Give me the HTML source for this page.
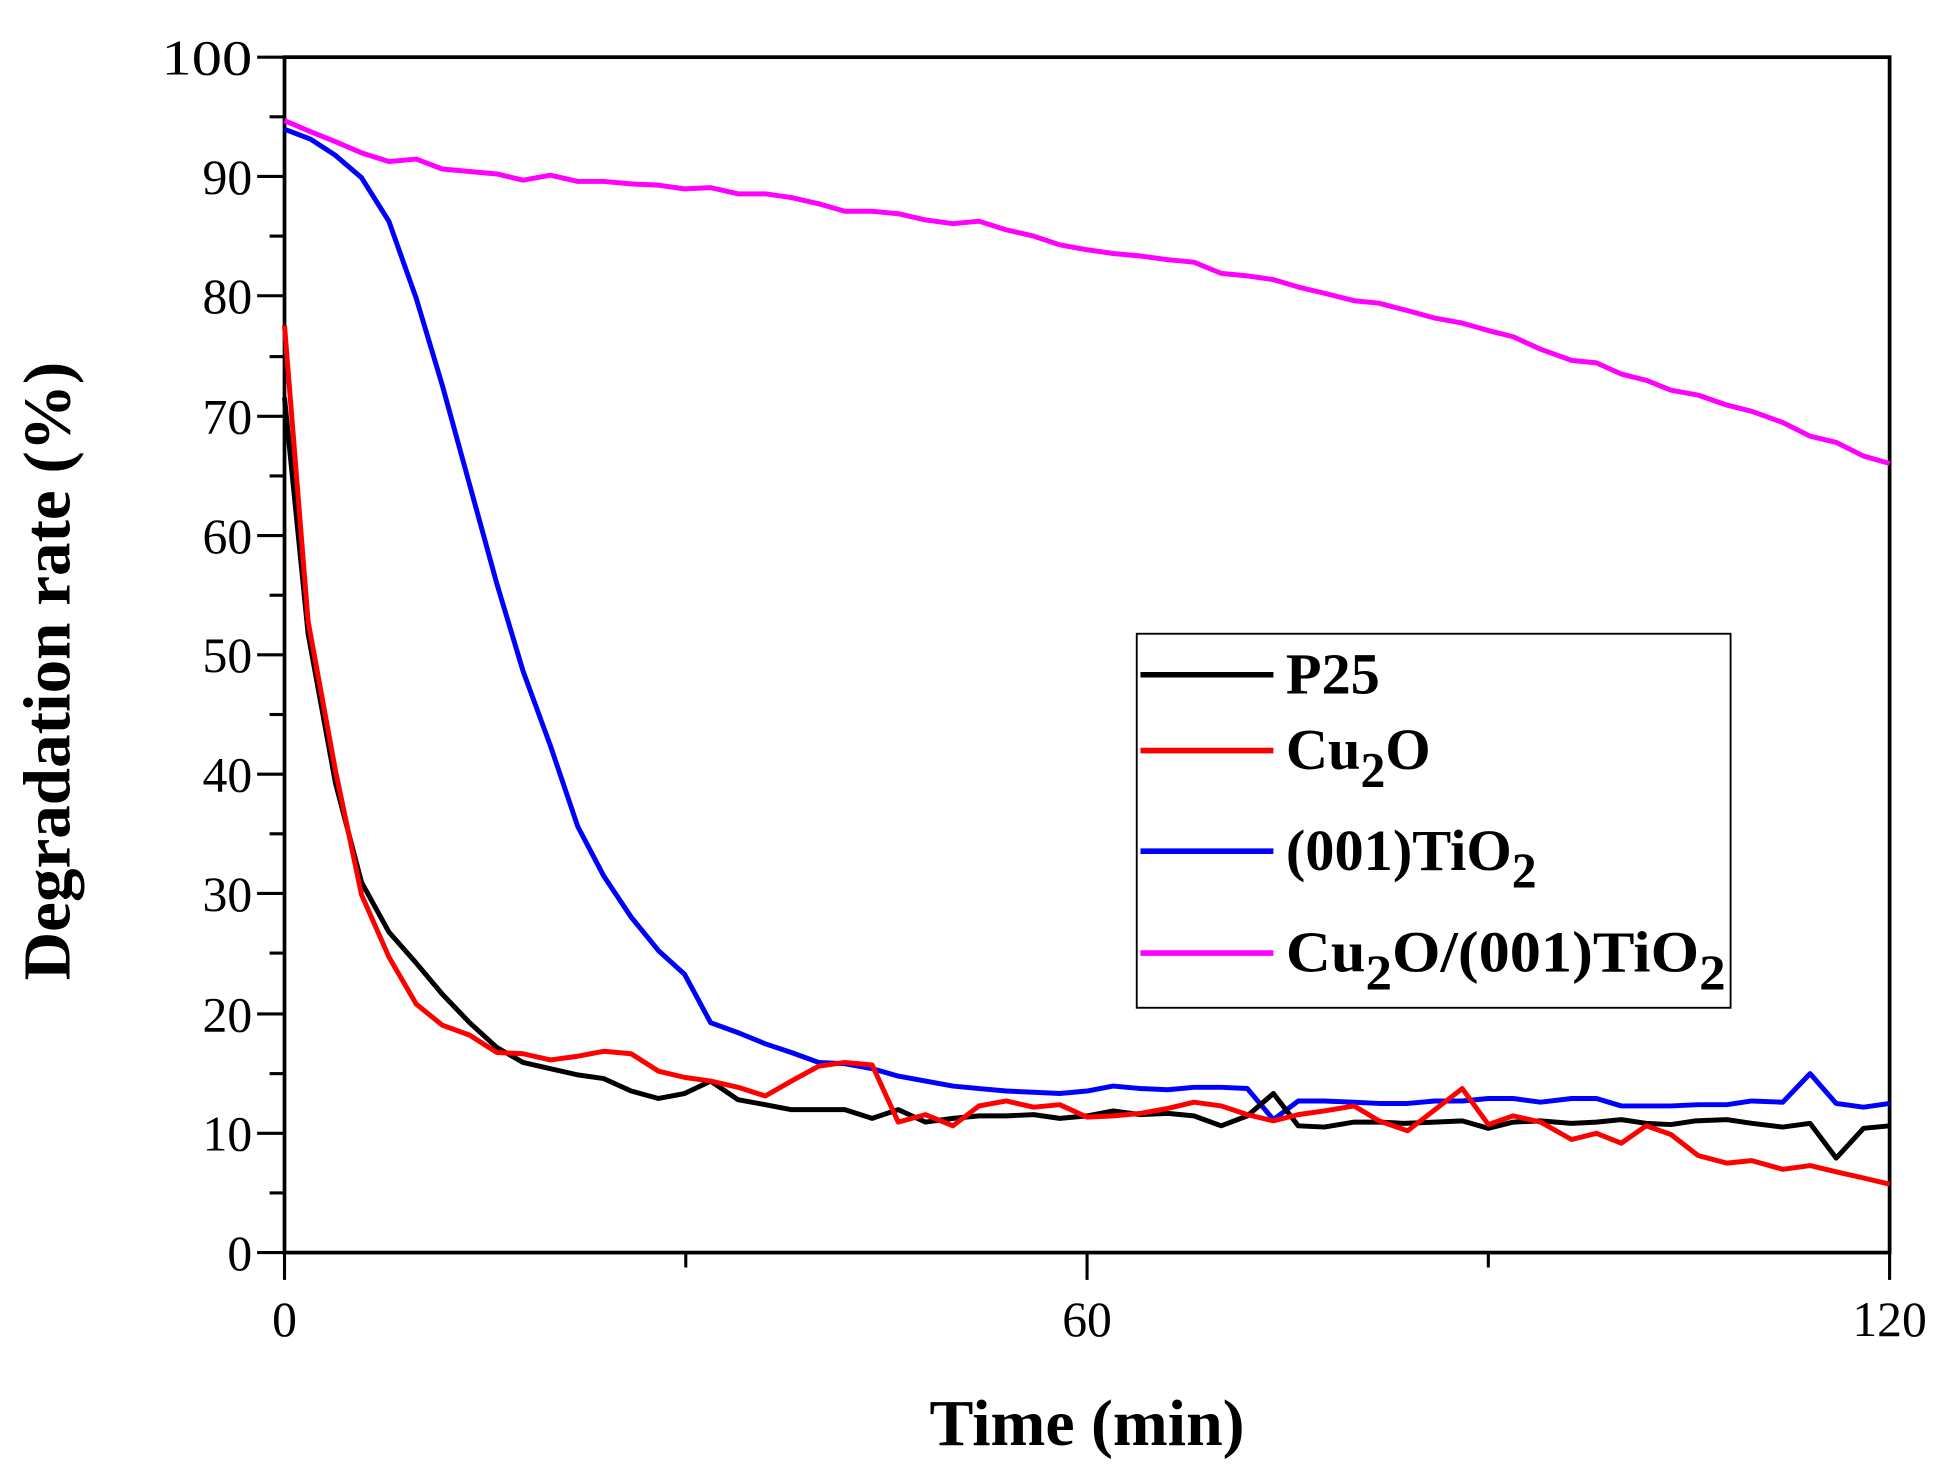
<!DOCTYPE html>
<html><head><style>html,body{margin:0;padding:0;background:#fff}svg{display:block}</style></head>
<body>
<svg width="1948" height="1475" viewBox="0 0 1568 1187" preserveAspectRatio="none" xmlns="http://www.w3.org/2000/svg" font-family="'Liberation Serif', serif">
<rect width="1568" height="1187" fill="#fff"/>
<g stroke="#000" stroke-width="2.5">
<line x1="207" y1="46" x2="229" y2="46"/><line x1="207" y1="142" x2="229" y2="142"/><line x1="207" y1="238" x2="229" y2="238"/><line x1="207" y1="335" x2="229" y2="335"/><line x1="207" y1="431" x2="229" y2="431"/><line x1="207" y1="527" x2="229" y2="527"/><line x1="207" y1="623" x2="229" y2="623"/><line x1="207" y1="719" x2="229" y2="719"/><line x1="207" y1="816" x2="229" y2="816"/><line x1="207" y1="912" x2="229" y2="912"/><line x1="207" y1="1008" x2="229" y2="1008"/>
<line x1="217" y1="94" x2="229" y2="94"/><line x1="217" y1="190" x2="229" y2="190"/><line x1="217" y1="287" x2="229" y2="287"/><line x1="217" y1="383" x2="229" y2="383"/><line x1="217" y1="479" x2="229" y2="479"/><line x1="217" y1="575" x2="229" y2="575"/><line x1="217" y1="671" x2="229" y2="671"/><line x1="217" y1="767" x2="229" y2="767"/><line x1="217" y1="864" x2="229" y2="864"/><line x1="217" y1="960" x2="229" y2="960"/>
<line x1="229" y1="1008" x2="229" y2="1030"/><line x1="552" y1="1008" x2="552" y2="1020"/><line x1="875" y1="1008" x2="875" y2="1030"/><line x1="1198" y1="1008" x2="1198" y2="1020"/><line x1="1521" y1="1008" x2="1521" y2="1030"/>
</g>
<rect x="229" y="46" width="1292" height="962" fill="none" stroke="#000" stroke-width="3"/>
<g font-size="40" text-anchor="end">
<text x="203" y="60" textLength="73" lengthAdjust="spacingAndGlyphs">100</text><text x="203" y="156">90</text><text x="203" y="252">80</text><text x="203" y="349">70</text><text x="203" y="445">60</text><text x="203" y="541">50</text><text x="203" y="637">40</text><text x="203" y="733">30</text><text x="203" y="830">20</text><text x="203" y="926">10</text><text x="203" y="1022">0</text>
</g>
<g font-size="40" text-anchor="middle"><text x="229" y="1075">0</text><text x="875" y="1075">60</text><text x="1521" y="1075">120</text></g>
<text x="875" y="1163" font-size="53" font-weight="bold" text-anchor="middle">Time (min)</text>
<text transform="translate(56,540) rotate(-90)" font-size="54" font-weight="bold" text-anchor="middle">Degradation rate (%)</text>
<g fill="none" stroke-width="4" stroke-linejoin="round">
<polyline stroke="#ff00ff" points="229,97 250,106 270,114 291,123 313,130 335,128 356,136 378,138 400,140 421,145 443,141 465,146 486,146 508,148 530,149 551,152 572,151 594,156 616,156 637,159 659,164 680,170 702,170 723,172 745,177 767,180 788,178 810,185 832,190 853,197 875,201 896,204 918,206 940,209 961,211 983,220 1004,222 1025,225 1045,231 1066,236 1090,242 1110,244 1133,250 1155,256 1177,260 1198,266 1218,271 1240,281 1265,290 1285,292 1305,301 1325,306 1345,314 1367,318 1390,326 1410,331 1435,340 1457,351 1478,356 1500,367 1521,373"/>
<polyline stroke="#0000ff" points="229,104 250,112 270,125 291,143 313,178 335,240 356,310 378,390 400,470 421,540 443,600 465,665 486,705 508,738 530,765 551,784 572,823 594,831 616,840 637,847 659,855 680,856 702,860 723,866 745,870 767,874 788,876 810,878 832,879 853,880 875,878 896,874 918,876 940,877 961,875 983,875 1004,876 1025,901 1045,886 1066,886 1090,887 1110,888 1133,888 1155,886 1177,886 1198,884 1218,884 1240,887 1265,884 1285,884 1305,890 1325,890 1345,890 1367,889 1390,889 1410,886 1435,887 1457,864 1478,888 1500,891 1521,888"/>
<polyline stroke="#000" points="229,320 248,510 270,630 291,710 313,750 335,775 356,800 378,823 400,843 421,855 443,860 465,865 486,868 508,878 530,884 551,880 572,870 594,885 616,889 637,893 659,893 680,893 702,900 723,893 745,903 767,900 788,898 810,898 832,897 853,900 875,898 896,894 918,897 940,896 961,898 983,906 1004,898 1025,880 1045,906 1066,907 1090,903 1110,903 1130,904 1155,903 1177,902 1198,908 1218,903 1240,902 1265,904 1285,903 1305,901 1325,904 1345,905 1365,902 1390,901 1410,904 1435,907 1457,904 1478,932 1500,908 1521,906"/>
<polyline stroke="#ff0000" points="229,262 248,500 270,620 291,720 313,770 335,808 356,825 378,833 400,847 421,848 443,853 465,850 486,846 508,848 530,862 551,867 572,870 594,875 616,882 637,870 659,858 680,855 702,857 723,903 745,897 767,906 788,890 810,886 832,891 853,889 875,899 896,898 918,896 940,892 961,887 983,890 1004,897 1025,902 1045,897 1066,894 1090,890 1110,902 1133,910 1155,893 1177,876 1198,905 1218,898 1240,903 1265,917 1285,912 1305,920 1325,906 1345,913 1367,930 1390,936 1410,934 1435,941 1457,938 1478,943 1500,948 1521,953"/>
</g>
<rect x="915" y="510" width="478" height="301" fill="#fff" stroke="#000" stroke-width="1.5"/>
<g stroke-width="4.5"><line x1="918" y1="543" x2="1025" y2="543" stroke="#000"/><line x1="918" y1="604" x2="1025" y2="604" stroke="#ff0000"/><line x1="918" y1="685" x2="1025" y2="685" stroke="#0000ff"/><line x1="918" y1="767" x2="1025" y2="767" stroke="#ff00ff"/></g>
<g font-size="47" font-weight="bold">
<text x="1035" y="558">P25</text>
<text x="1035" y="619">Cu<tspan font-size="40" dy="14">2</tspan><tspan dy="-14">O</tspan></text>
<text x="1035" y="700">(001)TiO<tspan font-size="40" dy="14">2</tspan></text>
<text x="1035" y="782" textLength="354" lengthAdjust="spacingAndGlyphs">Cu<tspan font-size="40" dy="14">2</tspan><tspan dy="-14">O/(001)TiO</tspan><tspan font-size="40" dy="14">2</tspan></text>
</g>
</svg>
</body></html>
